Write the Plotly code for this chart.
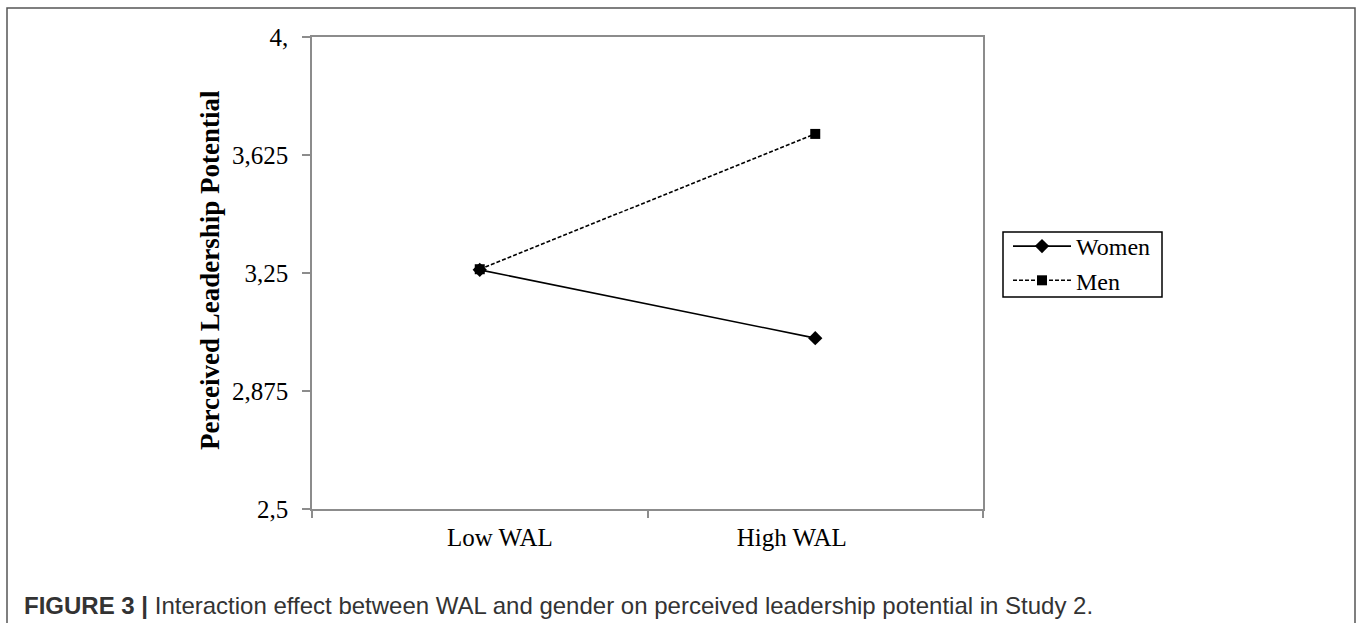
import plotly.graph_objects as go

categories = ["Low WAL", "High WAL"]
women = [3.26, 3.043]
men = [3.262, 3.692]
ytick_vals = [2.5, 2.875, 3.25, 3.625, 4.0]
ytick_text = ["2,5", "2,875", "3,25", "3,625", "4,"]

W, H = 1357, 623
L, R, T, B = 312, 983, 37, 509  # plot area in px

def px(x):
    return (x - L) / (R - L)

def py(y):
    return (B - y) / (B - T)

serif = "Liberation Serif, Times New Roman, serif"
axis_col = "#8c8c8c"

fig = go.Figure()
fig.add_trace(go.Scatter(
    x=categories, y=women, name="Women", mode="lines+markers",
    line=dict(color="black", width=1.6),
    marker=dict(symbol="diamond", size=11, color="black"),
))
fig.add_trace(go.Scatter(
    x=categories, y=men, name="Men", mode="lines+markers",
    line=dict(color="black", width=1.6, dash="4px,2px"),
    marker=dict(symbol="square", size=10, color="black"),
))
# carrier for the label axis (category labels sit slightly inward, as in the original)
fig.add_trace(go.Scatter(
    x=[], y=[], xaxis="x2", showlegend=False, hoverinfo="skip",
))

label_pos = [0.06, 0.93]

fig.update_layout(
    width=W, height=H,
    margin=dict(l=L, r=W - R, t=T, b=H - B, pad=0),
    paper_bgcolor="white", plot_bgcolor="white",
    font=dict(family=serif, size=25, color="black"),
    xaxis=dict(
        type="category", range=[-0.5, 1.5], tickson="boundaries",
        showgrid=False, zeroline=False, showticklabels=False,
        showline=True, linecolor=axis_col, linewidth=1.5, mirror=True,
        ticks="outside", ticklen=7, tickcolor=axis_col, tickwidth=1.5,
    ),
    xaxis2=dict(
        overlaying="x", anchor="y", side="bottom", range=[-0.5, 1.5],
        tickvals=label_pos, ticktext=categories,
        showgrid=False, zeroline=False, showline=False, ticks="",
        tickfont=dict(family=serif, size=25, color="black"),
        ticklabelstandoff=11,
    ),
    yaxis=dict(
        range=[2.5, 4.0], tickvals=ytick_vals, ticktext=ytick_text,
        showgrid=False, zeroline=False,
        showline=True, linecolor=axis_col, linewidth=1.5, mirror=True,
        ticks="outside", ticklen=8, tickcolor=axis_col, tickwidth=1.5,
        tickfont=dict(family=serif, size=25, color="black"),
        ticklabelstandoff=9,
    ),
    showlegend=True,
    legend=dict(
        x=px(1008), y=py(224), xanchor="left", yanchor="top",
        borderwidth=0, bgcolor="rgba(0,0,0,0)",
        font=dict(family=serif, size=24, color="black"),
        itemwidth=58, tracegroupgap=0,
    ),
)

# legend frame
fig.add_shape(
    type="rect", xref="paper", yref="paper",
    x0=px(1003), x1=px(1162), y0=py(297), y1=py(232),
    line=dict(color="black", width=1.5), fillcolor="rgba(0,0,0,0)",
    layer="above",
)

fig.add_annotation(
    text="<b>Perceived Leadership Potential</b>", textangle=-90,
    xref="paper", yref="paper", x=px(210), y=py(270),
    xanchor="center", yanchor="middle", showarrow=False,
    font=dict(family=serif, size=27, color="black"),
)

fig.add_annotation(
    text="<b>FIGURE 3 |</b> Interaction effect between WAL and gender on perceived leadership potential in Study 2.",
    xref="paper", yref="paper", x=px(22), y=py(605),
    xanchor="left", yanchor="middle", showarrow=False,
    font=dict(family="Liberation Sans, Arial, sans-serif", size=24, color="#333333"),
)

# outer figure frame
fig.add_shape(
    type="rect", xref="paper", yref="paper",
    x0=px(7), x1=px(1355), y0=py(660), y1=py(8),
    line=dict(color="#555555", width=1.5), fillcolor="rgba(0,0,0,0)",
    layer="above",
)

fig.write_html("out.html", config={"displayModeBar": False},
               post_script="document.body.style.margin='0';")
